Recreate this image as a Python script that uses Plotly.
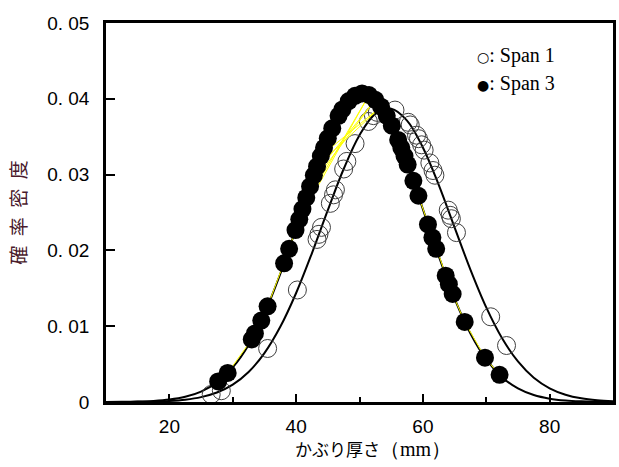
import plotly.graph_objects as go

# ---- data ----
CURVE_X = [10, 12.5, 15, 17.5, 20, 22.5, 25, 27.5, 30, 32.5, 35, 37.5, 40, 42.5, 45, 47.5,
           50, 52.5, 55, 57.5, 60, 62.5, 65, 67.5, 70, 72.5, 75, 77.5, 80, 82.5, 85, 87.5, 90]
SPAN1_CURVE_Y = [0.0000034, 0.0000095, 0.0000248, 0.0000611, 0.000142, 0.000311, 0.000641, 0.00125,
                 0.00229, 0.00396, 0.00645, 0.00992, 0.01438, 0.01965, 0.02531, 0.03074,
                 0.03520, 0.03801, 0.03868, 0.03712, 0.03358, 0.02864, 0.02304, 0.01747,
                 0.01248, 0.00841, 0.00535, 0.00320, 0.00181, 0.000964, 0.000483, 0.000229, 0.000102]
SPAN3_CURVE_Y = [0.0000079, 0.0000221, 0.0000578, 0.000141, 0.000321, 0.000688, 0.00138, 0.00259,
                 0.00456, 0.00753, 0.01165, 0.01689, 0.02293, 0.02918, 0.03478, 0.03885,
                 0.04066, 0.03987, 0.03664, 0.03154, 0.02545, 0.01924, 0.01363, 0.00904,
                 0.00562, 0.00328, 0.00179, 0.000915, 0.000438, 0.000197, 0.0000829, 0.0000327, 0.0000121]

SPAN1_X = [26.6, 28.2, 35.5, 40.2, 43.3, 43.6, 44.0, 45.4, 45.9, 46.2, 47.5, 48.0, 49.3, 51.4,
           52.2, 52.8, 55.6, 57.7, 58.0, 59.0, 59.3, 59.8, 60.2, 61.1, 61.6, 61.9, 64.0, 64.3,
           64.5, 65.3, 70.7, 73.2]
SPAN1_Y = [0.000988, 0.001487, 0.00706, 0.01478, 0.02145, 0.02212, 0.02304, 0.02621, 0.02733,
           0.02799, 0.03074, 0.03174, 0.03409, 0.03701, 0.03778, 0.03821, 0.03851, 0.03690,
           0.03655, 0.03520, 0.03474, 0.03393, 0.03323, 0.03154, 0.03054, 0.02992, 0.02531,
           0.02463, 0.02418, 0.02235, 0.01124, 0.00745]

# Span 3 points, in recorded (data) order
SPAN3_X = [27.7, 29.2, 33.0, 33.5, 34.5, 35.5, 38.1, 38.9, 39.9, 41.0, 51.5, 40.5, 41.6, 42.2, 52.5,
           42.8, 43.3, 53.4, 43.9, 44.4, 45.0, 50.4, 45.7, 46.7, 47.3, 48.3, 49.3, 54.3, 55.1,
           56.1, 56.6, 57.1, 57.6, 58.5, 59.3, 60.8, 61.5, 62.1, 63.6, 64.1, 64.7, 66.6, 69.8, 72.1]
SPAN3_Y = [0.00272, 0.00384, 0.00826, 0.00904, 0.01074, 0.01262, 0.01829, 0.02021, 0.02268,
           0.02545, 0.04050, 0.02410, 0.02695, 0.02844, 0.03987, 0.02990, 0.03108, 0.03896, 0.03245,
           0.03354, 0.03478, 0.04071, 0.03610, 0.03776, 0.03860, 0.03970, 0.04040, 0.03776,
           0.03646, 0.03458, 0.03354, 0.03245, 0.03132, 0.02918, 0.02721, 0.02343, 0.02169,
           0.02021, 0.01666, 0.01554, 0.01425, 0.01056, 0.00585, 0.00359]

Y_TICKS = [0, 0.01, 0.02, 0.03, 0.04, 0.05]
Y_TICK_TEXT = ["0", "0. 01", "0. 02", "0. 03", "0. 04", "0. 05"]
X_TICKS = [20, 40, 60, 80]
X_TICK_TEXT = ["20", "40", "60", "80"]

TICK_FONT = dict(family="Liberation Sans Narrow, Liberation Sans, Arial", size=19, color="black")

fig = go.Figure()
fig.add_trace(go.Scatter(x=CURVE_X, y=SPAN1_CURVE_Y, mode="lines",
                         line=dict(color="black", width=2, shape="spline", smoothing=1),
                         showlegend=False, hoverinfo="skip"))
fig.add_trace(go.Scatter(x=CURVE_X, y=SPAN3_CURVE_Y, mode="lines",
                         line=dict(color="black", width=2, shape="spline", smoothing=1),
                         showlegend=False, hoverinfo="skip"))
fig.add_trace(go.Scatter(x=SPAN1_X, y=SPAN1_Y, mode="markers", name="Span 1",
                         marker=dict(symbol="circle-open", size=18, color="#404040",
                                     line=dict(width=1, color="#404040")),
                         showlegend=False))
fig.add_trace(go.Scatter(x=SPAN3_X, y=SPAN3_Y, mode="lines+markers", name="Span 3",
                         line=dict(color="#ffff00", width=1),
                         marker=dict(symbol="circle", size=18, color="black"),
                         showlegend=False))

fig.update_layout(
    width=619, height=467,
    margin=dict(l=106, r=3, t=23, b=65),
    plot_bgcolor="white", paper_bgcolor="white",
    showlegend=False,
    xaxis=dict(range=[10, 90], tickvals=X_TICKS, ticktext=X_TICK_TEXT,
               ticks="inside", ticklen=8, tickwidth=2, tickcolor="black",
               minor=dict(tickvals=[30, 50, 70], ticks="inside", ticklen=5, tickwidth=1.5, tickcolor="black"),
               showline=True, linecolor="black", linewidth=2.5, mirror=True,
               showgrid=False, zeroline=False, tickfont=TICK_FONT, ticklabelstandoff=5),
    yaxis=dict(range=[0, 0.05], tickvals=Y_TICKS, ticktext=Y_TICK_TEXT,
               ticks="inside", ticklen=9, tickwidth=2, tickcolor="black",
               showline=True, linecolor="black", linewidth=2.5, mirror=True,
               showgrid=False, zeroline=False, tickfont=TICK_FONT, ticklabelstandoff=10,
               title=dict(text="確\u2002率\u2002密\u2002度", standoff=16,
                          font=dict(family="Noto Sans CJK JP", size=19, color="#4a1a2c"))),
)

fig.add_annotation(xref="paper", yref="paper", x=0.527, y=-0.124, xanchor="center", yanchor="middle",
                   text="かぶり厚さ<span style='font-family:Liberation Serif;font-size:20px'>（mm）</span>",
                   showarrow=False, font=dict(family="Noto Sans CJK JP", size=17, color="black"))

fig.add_annotation(xref="paper", yref="paper", x=0.727, y=0.913, xanchor="left", yanchor="middle",
                   text="<span style='font-family:DejaVu Sans;font-size:14px'>○</span>: Span 1",
                   showarrow=False, font=dict(family="Liberation Serif", size=20, color="black"))
fig.add_annotation(xref="paper", yref="paper", x=0.727, y=0.840, xanchor="left", yanchor="middle",
                   text="<span style='font-family:DejaVu Sans;font-size:14px'>●</span>: Span 3",
                   showarrow=False, font=dict(family="Liberation Serif", size=20, color="black"))

fig.write_html("out.html")
